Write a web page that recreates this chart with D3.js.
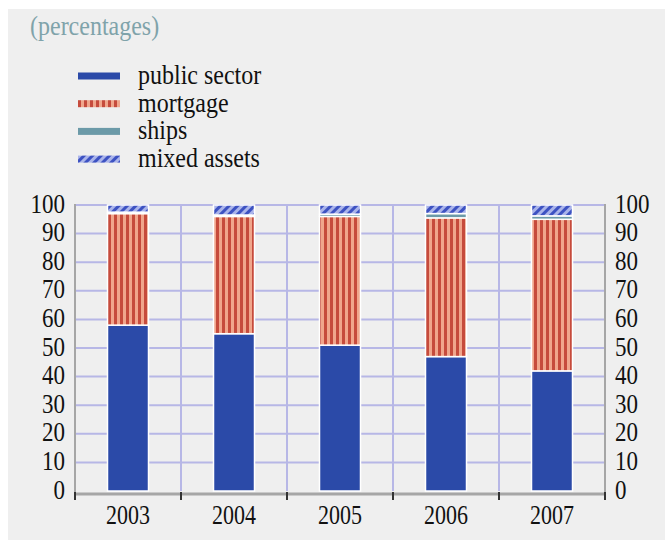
<!DOCTYPE html>
<html>
<head>
<meta charset="utf-8">
<script src="https://cdn.jsdelivr.net/npm/d3@7"></script>
<style>
  body { margin: 0; background: #fff; }
  text { font-family: "Liberation Serif", "Times New Roman", serif; }
</style>
</head>
<body>
<script>
// data
const years = ["2003", "2004", "2005", "2006", "2007"];
const publicSector = [58, 55, 51, 47, 42];
const mortgage = [39, 41, 45, 48.5, 53];
const ships = [0.5, 0.5, 0.8, 1.5, 1.2];
const mixedAssets = [2.5, 3.5, 3.2, 3, 3.8];
const yTicks = [0, 10, 20, 30, 40, 50, 60, 70, 80, 90, 100];

const keys = ["public sector", "mortgage", "ships", "mixed assets"];
const table = years.map((y, i) => ({
  year: y,
  "public sector": publicSector[i],
  "mortgage": mortgage[i],
  "ships": ships[i],
  "mixed assets": mixedAssets[i]
}));

const width = 665, height = 540;
const svg = d3.select("body").append("svg")
  .attr("width", width)
  .attr("height", height);

// patterns
const defs = svg.append("defs");
const stripes = defs.append("pattern")
  .attr("id", "stripes")
  .attr("patternUnits", "userSpaceOnUse")
  .attr("width", 6).attr("height", 6);
stripes.append("rect").attr("width", 6).attr("height", 6).attr("fill", "#f0a68c");
stripes.append("rect").attr("x", 0).attr("width", 3).attr("height", 6).attr("fill", "#c64b3c");

const hatch = defs.append("pattern")
  .attr("id", "hatch")
  .attr("patternUnits", "userSpaceOnUse")
  .attr("width", 6).attr("height", 6)
  .attr("patternTransform", "rotate(45)");
hatch.append("rect").attr("width", 6).attr("height", 6).attr("fill", "#aab4ea");
hatch.append("rect").attr("width", 3).attr("height", 6).attr("fill", "#3d52c2");

const fills = {
  "public sector": "#2b4aa8",
  "mortgage": "url(#stripes)",
  "ships": "#6c9aa8",
  "mixed assets": "url(#hatch)"
};

// text is a bit taller than normal in the original
function label(g, tx, ty, str, size, anchor, sy) {
  return g.append("text")
    .attr("transform", `translate(${tx},${ty}) scale(1,${sy})`)
    .attr("text-anchor", anchor)
    .attr("font-size", size)
    .attr("fill", "#111")
    .text(str);
}

// panel background
svg.append("rect")
  .attr("x", 8).attr("y", 9)
  .attr("width", 657).attr("height", 531)
  .attr("fill", "#efefef");

label(svg, 30, 35, "(percentages)", 24, "start", 1.1).attr("fill", "#7fa3aa");

// legend
const legend = svg.append("g");
keys.forEach((k, i) => {
  const ly = 76 + i * 27.7;
  legend.append("rect")
    .attr("x", 78).attr("y", ly - 3.5)
    .attr("width", 42).attr("height", 7)
    .attr("fill", fills[k]);
  label(legend, 138, ly + 8, k, 24, "start", 1.1);
});

const x = d3.scaleBand().domain(years).range([75, 605]).paddingInner(0).paddingOuter(0);
const y = d3.scaleLinear().domain([0, 100]).range([491, 205]);

// grid
svg.append("g")
  .selectAll("line")
  .data(yTicks.filter(d => d > 0))
  .join("line")
  .attr("x1", 75).attr("x2", 605)
  .attr("y1", d => y(d)).attr("y2", d => y(d))
  .attr("stroke", "#b7b7e6").attr("stroke-width", 2);

const bounds = years.map(d => x(d)).concat([x.range()[1]]);
svg.append("g")
  .selectAll("line")
  .data(bounds.slice(1, -1))
  .join("line")
  .attr("x1", d => d).attr("x2", d => d)
  .attr("y1", y(100)).attr("y2", y(0))
  .attr("stroke", "#b7b7e6").attr("stroke-width", 2);

// side axes
[75, 605].forEach(px => {
  svg.append("line")
    .attr("x1", px).attr("x2", px)
    .attr("y1", y(100) - 1).attr("y2", 495)
    .attr("stroke", "#a6a6a6").attr("stroke-width", 2);
});

// bars
const stack = d3.stack().keys(keys)(table);
const barW = 41;
svg.append("g")
  .selectAll("g")
  .data(stack)
  .join("g")
  .attr("fill", d => fills[d.key])
  .selectAll("rect")
  .data(d => d)
  .join("rect")
  .attr("x", d => x(d.data.year) + x.bandwidth() / 2 - barW / 2)
  .attr("width", barW)
  .attr("y", d => y(d[1]))
  .attr("height", d => y(d[0]) - y(d[1]))
  .attr("stroke", "#fff")
  .attr("stroke-width", 1.5);

// bottom axis
svg.append("line")
  .attr("x1", 74).attr("x2", 606)
  .attr("y1", 494).attr("y2", 494)
  .attr("stroke", "#a6a6a6").attr("stroke-width", 3);
svg.append("g")
  .selectAll("line")
  .data(bounds)
  .join("line")
  .attr("x1", d => d).attr("x2", d => d)
  .attr("y1", 492).attr("y2", 500)
  .attr("stroke", "#333").attr("stroke-width", 2);

const xLab = svg.append("g");
years.forEach(d => label(xLab, x(d) + x.bandwidth() / 2, 524, d, 22, "middle", 1.2));

// y labels both sides
const yLab = svg.append("g");
yTicks.forEach(d => {
  label(yLab, 65, y(d) + 7.5, d, 23, "end", 1.2);
  label(yLab, 615, y(d) + 7.5, d, 23, "start", 1.2);
});
</script>
</body>
</html>
